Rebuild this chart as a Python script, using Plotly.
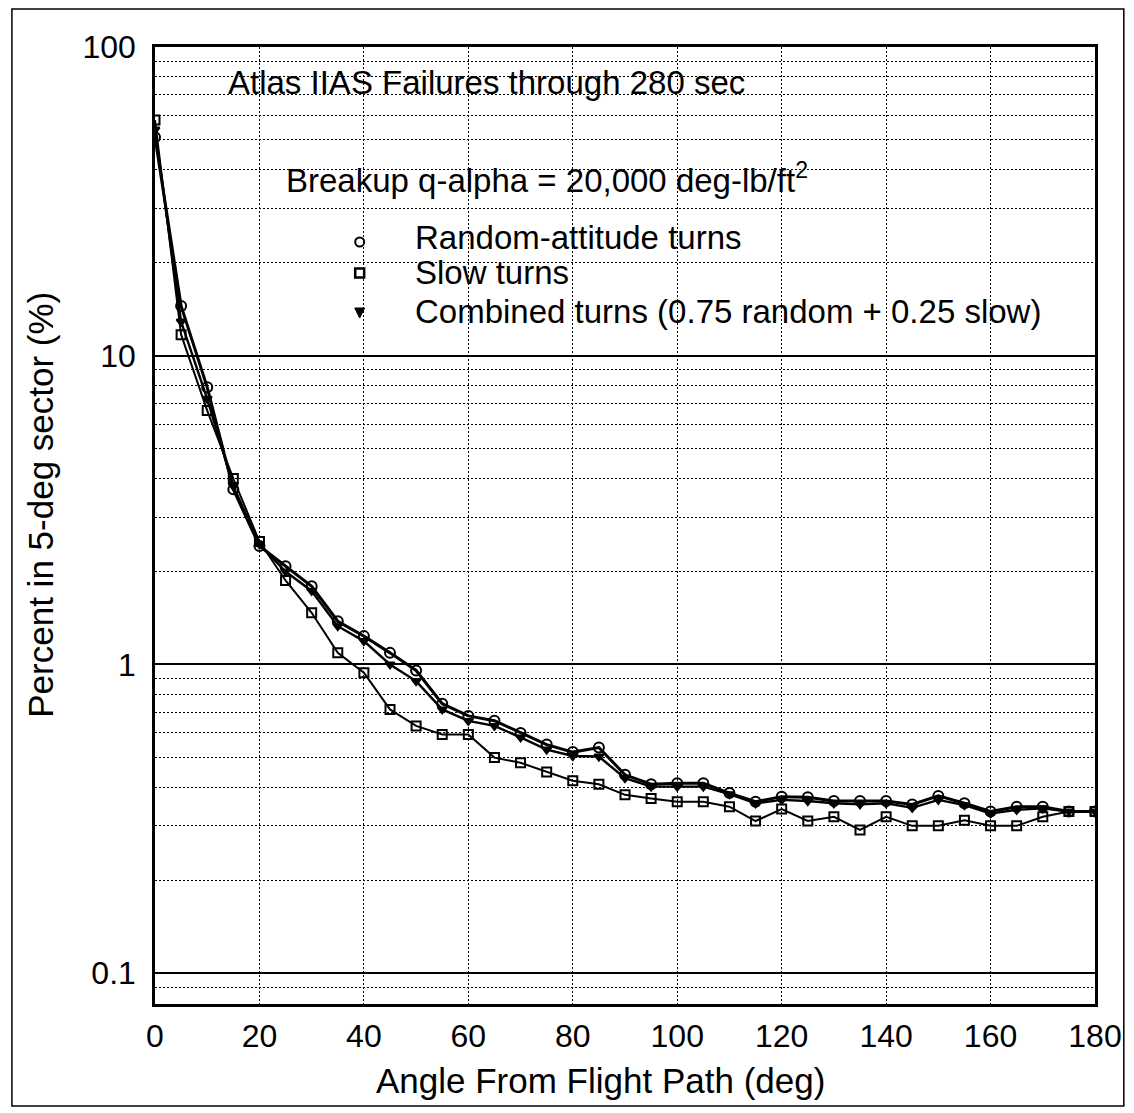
import plotly.graph_objects as go

# ---------------- data ----------------
angle = [0, 5, 10, 15, 20, 25, 30, 35, 40, 45, 50, 55, 60, 65, 70, 75, 80, 85, 90,
         95, 100, 105, 110, 115, 120, 125, 130, 135, 140, 145, 150, 155, 160, 165,
         170, 175, 180]

random_turns = [51, 14.5, 7.9, 3.69, 2.42, 2.08, 1.79, 1.38, 1.235, 1.09, 0.956,
                0.746, 0.681, 0.657, 0.60, 0.55, 0.52, 0.538, 0.439, 0.409, 0.412,
                0.412, 0.383, 0.359, 0.373, 0.371, 0.361, 0.361, 0.361, 0.352,
                0.375, 0.355, 0.334, 0.346, 0.346, 0.334, 0.334]

slow_turns = [58, 11.7, 6.64, 4.0, 2.5, 1.87, 1.47, 1.09, 0.94, 0.715, 0.632,
              0.593, 0.593, 0.499, 0.48, 0.448, 0.42, 0.409, 0.378, 0.368, 0.359,
              0.359, 0.346, 0.311, 0.340, 0.311, 0.321, 0.291, 0.321, 0.300,
              0.300, 0.313, 0.300, 0.300, 0.321, 0.334, 0.334]

combined_turns = [54, 12.9, 7.25, 3.78, 2.45, 2.0, 1.73, 1.33, 1.19, 1.0, 0.883,
                  0.715, 0.656, 0.632, 0.58, 0.53, 0.505, 0.503, 0.428, 0.402,
                  0.402, 0.402, 0.38, 0.355, 0.364, 0.361, 0.355, 0.352, 0.355,
                  0.343, 0.364, 0.35, 0.329, 0.338, 0.342, 0.334, 0.334]

series_names = ["Random-attitude turns", "Slow turns",
                "Combined turns (0.75 random + 0.25 slow)"]

x_ticks = [0, 20, 40, 60, 80, 100, 120, 140, 160, 180]
y_ticks = [0.1, 1, 10, 100]
y_tick_text = ["0.1", "1", "10", "100"]
y_minor = [0.09] + [m * 0.1 for m in range(2, 10)] + [float(m) for m in range(2, 10)] + \
          [m * 10.0 for m in range(2, 10)]

# ---------------- layout geometry (pixels) ----------------
W, H = 1134, 1113
L, R, T, B = 155, 1101, 47, 1004
FONT = "Liberation Sans, Arial, Helvetica, sans-serif"
DOT = "2px,2px"


def px_x(p):
    return (p - L) / (R - L)


def px_y(p):
    return (B - p) / (B - T)


fig = go.Figure()

styles = [
    (random_turns, "circle-open", 10, 3.0),
    (slow_turns, "square-open", 9, 2.0),
    (combined_turns, "triangle-down", 8, 2.4),
]
# draw combined first so the open markers stay on top
for idx in [2, 1, 0]:
    vals, sym, size, lw = styles[idx]
    fig.add_trace(go.Scatter(
        x=angle, y=vals, mode="lines+markers",
        line=dict(color="black", width=lw),
        marker=dict(symbol=sym, size=size, color="black",
                    line=dict(color="black", width=2)),
        showlegend=False, name=series_names[idx],
    ))

# ---------------- key (symbols drawn as shapes, labels as text) ----------------
key_x = 361
key_rows = [(242, 237), (273, 271), (313, 310)]   # (symbol y, text y) in pixels
key_text_x = 415
shapes = [
    # outer frame of the figure
    dict(type="rect", xref="paper", yref="paper",
         x0=px_x(11), x1=px_x(1130), y0=px_y(1106), y1=px_y(9),
         line=dict(color="black", width=1.5), layer="below"),
    # circle
    dict(type="circle", xref="paper", yref="paper",
         x0=px_x(key_x - 4.5), x1=px_x(key_x + 4.5),
         y0=px_y(key_rows[0][0] + 4.5), y1=px_y(key_rows[0][0] - 4.5),
         line=dict(color="black", width=2), fillcolor="white"),
    # square
    dict(type="rect", xref="paper", yref="paper",
         x0=px_x(key_x - 4.5), x1=px_x(key_x + 4.5),
         y0=px_y(key_rows[1][0] + 4.5), y1=px_y(key_rows[1][0] - 4.5),
         line=dict(color="black", width=2.5), fillcolor="white"),
    # down triangle
    dict(type="path", xref="paper", yref="paper",
         path="M {a},{b} L {c},{b} L {d},{e} Z".format(
             a=px_x(key_x - 5), c=px_x(key_x + 5), b=px_y(key_rows[2][0] - 5),
             d=px_x(key_x), e=px_y(key_rows[2][0] + 5)),
         line=dict(color="black", width=1), fillcolor="black"),
]

annotations = [
    dict(text="Atlas IIAS Failures through 280 sec", xref="paper", yref="paper",
         x=px_x(226), y=px_y(82), xanchor="left", yanchor="middle",
         showarrow=False, font=dict(size=33, family=FONT)),
    dict(text="Breakup q-alpha = 20,000 deg-lb/ft<sup>2</sup>", xref="paper",
         yref="paper", x=px_x(285), y=px_y(178), xanchor="left",
         yanchor="middle", showarrow=False, font=dict(size=33, family=FONT)),
    dict(text="Angle From Flight Path (deg)", xref="paper", yref="paper",
         x=px_x(603), y=px_y(1080), xanchor="center", yanchor="middle",
         showarrow=False, font=dict(size=35, family=FONT)),
    dict(text="Percent in 5-deg sector (%)", xref="paper", yref="paper",
         x=px_x(39), y=px_y(505), xanchor="center", yanchor="middle",
         textangle=-90, showarrow=False, font=dict(size=35, family=FONT)),
]
for name, (sy, ty) in zip(series_names, key_rows):
    annotations.append(dict(text=name, xref="paper", yref="paper",
                            x=px_x(key_text_x), y=px_y(ty + 1), xanchor="left",
                            yanchor="middle", showarrow=False,
                            font=dict(size=33, family=FONT)))

fig.update_layout(
    width=W, height=H,
    margin=dict(l=L, r=W - R, t=T, b=H - B),
    paper_bgcolor="white", plot_bgcolor="white",
    font=dict(family=FONT, color="black", size=32),
    showlegend=False,
    xaxis=dict(
        range=[0, 180], tickmode="array", tickvals=x_ticks,
        showgrid=True, gridcolor="black", griddash=DOT, gridwidth=1.4,
        showline=True, linecolor="black", linewidth=2.5, mirror=True,
        ticks="", tickfont=dict(size=32, family=FONT), zeroline=False,
        ticklabelstandoff=2,
    ),
    yaxis=dict(
        type="log", range=[-1.1, 2], tickmode="array",
        tickvals=y_ticks, ticktext=y_tick_text,
        showgrid=True, gridcolor="black", gridwidth=2,
        showline=True, linecolor="black", linewidth=2.5, mirror=True,
        ticks="", tickfont=dict(size=32, family=FONT), zeroline=False,
        ticklabelstandoff=10,
        minor=dict(tickmode="array", tickvals=y_minor, showgrid=True,
                   gridcolor="black", griddash=DOT, gridwidth=1.4, ticks=""),
    ),
    annotations=annotations,
    shapes=shapes,
)

fig.write_html("out.html",
               config={"displayModeBar": False},
               post_script="document.body.style.margin='0';"
                           "document.body.style.overflow='hidden';")
